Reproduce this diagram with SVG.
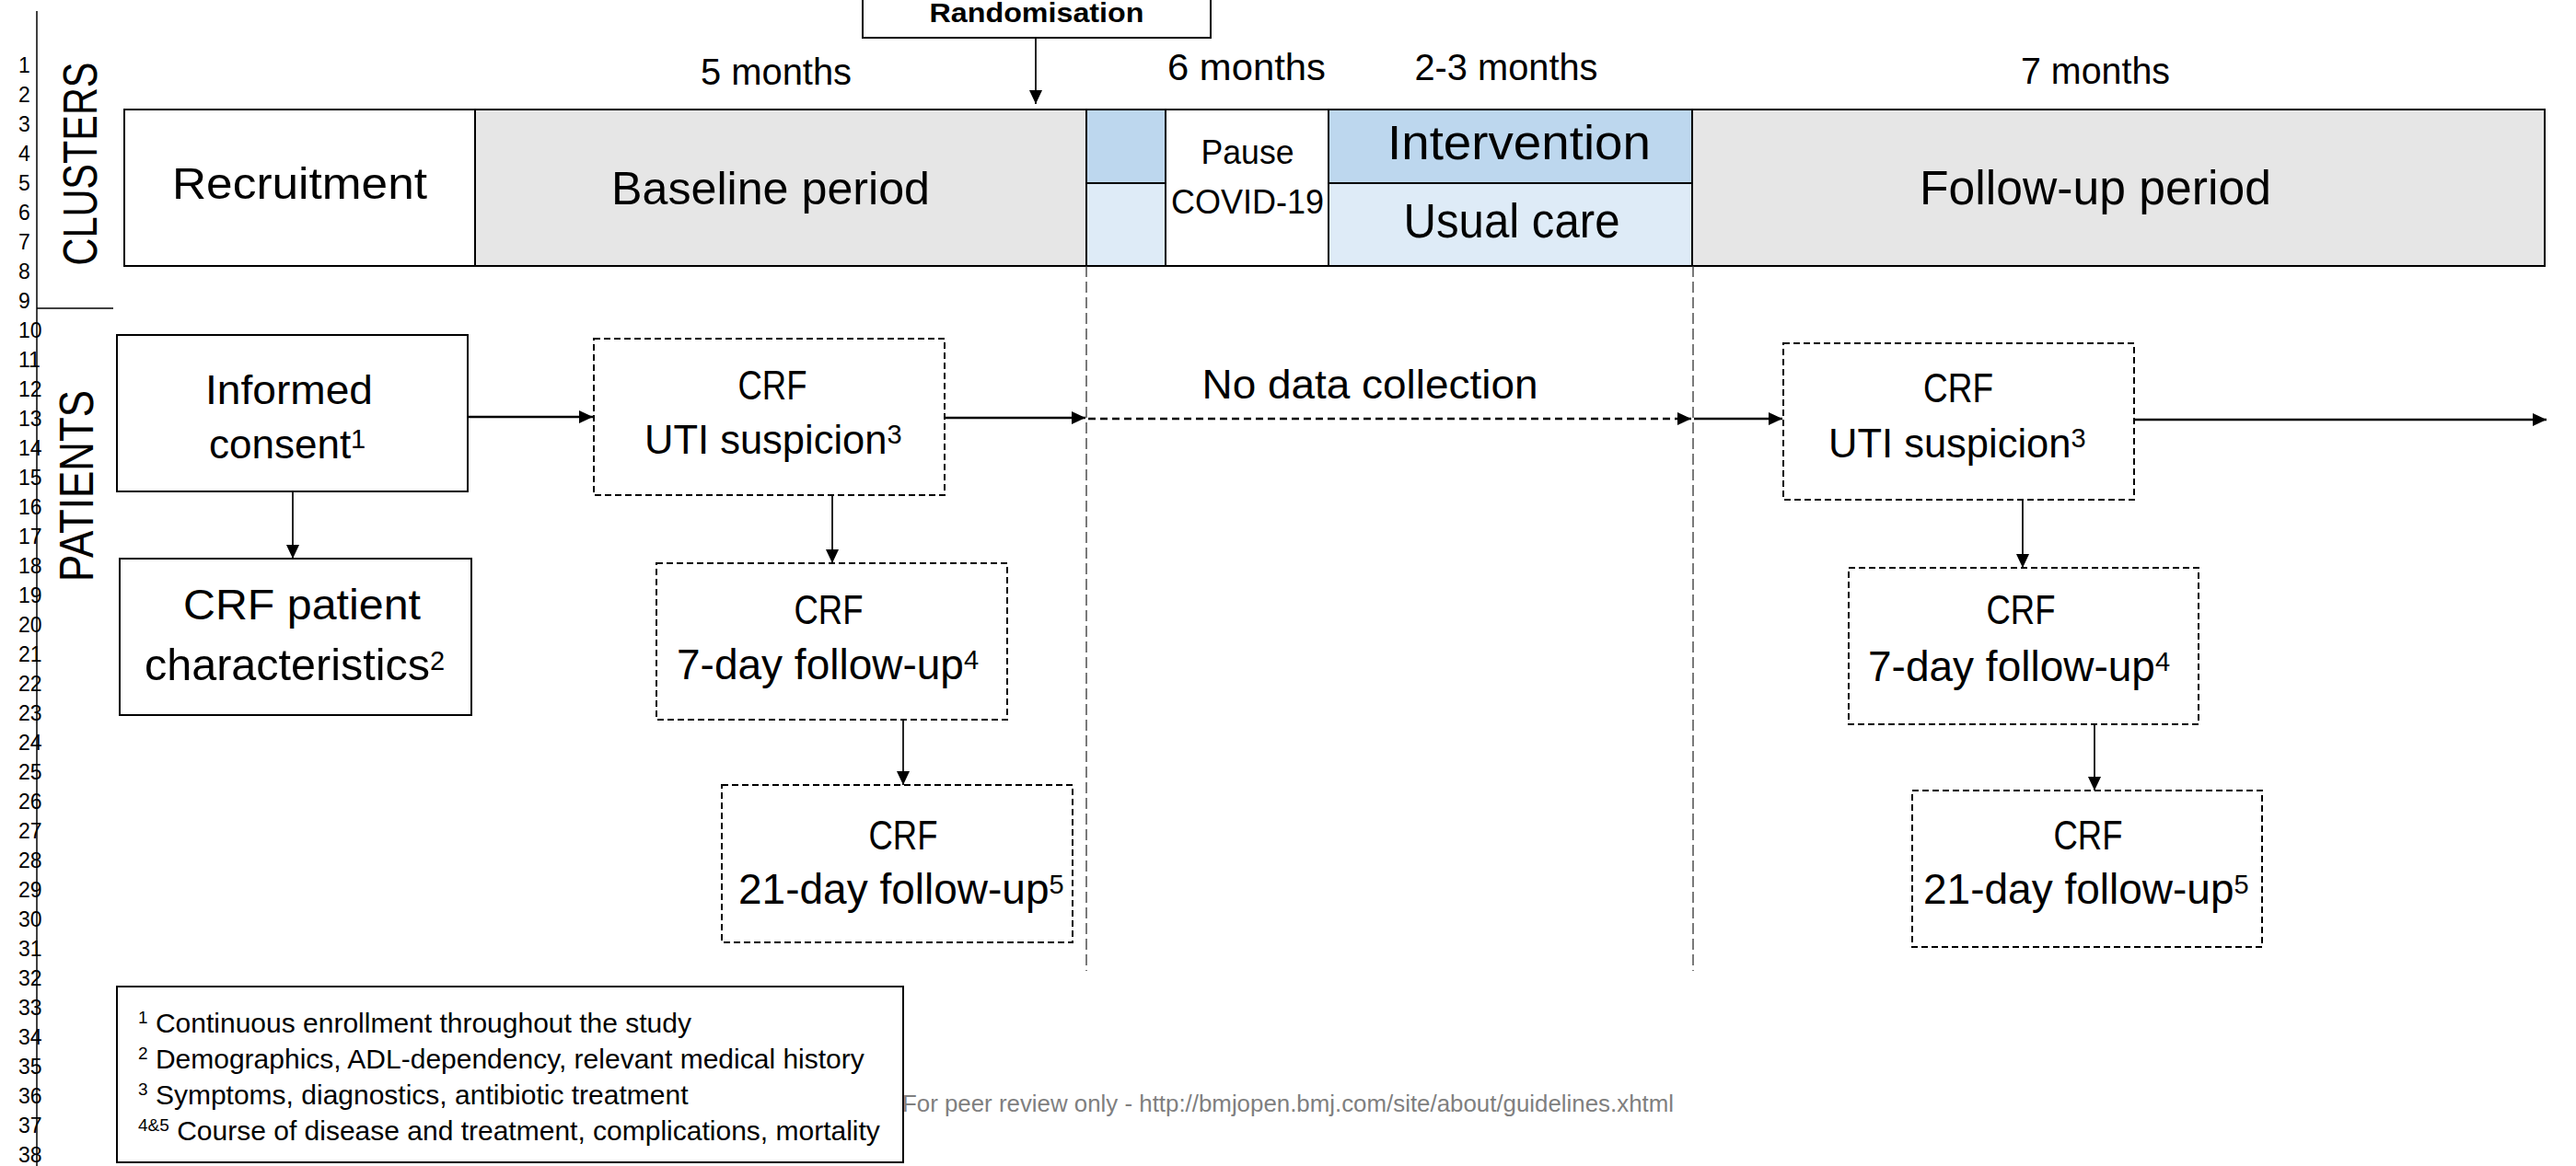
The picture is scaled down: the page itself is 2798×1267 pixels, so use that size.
<svg xmlns="http://www.w3.org/2000/svg" width="2798" height="1267" viewBox="0 0 2798 1267">
<defs>
<style>
text { font-family: "Liberation Sans", Arial, sans-serif; fill: #000; }
.ln { font-size: 23px; }
.box { fill: #fff; stroke: #000; stroke-width: 2; }
.dbox { fill: #fff; stroke: #000; stroke-width: 2; stroke-dasharray: 7 4; }
.gray { fill: #e6e6e6; stroke: #000; stroke-width: 2; }
.blue { fill: #bdd7ee; stroke: #000; stroke-width: 2; }
.lblue { fill: #deebf7; stroke: #000; stroke-width: 2; }
.arr { stroke: #000; stroke-width: 2.5; fill: none; marker-end: url(#ah); }
.varr { stroke: #000; stroke-width: 1.7; fill: none; marker-end: url(#ah); }
.dot { stroke-dasharray: 8 5; }
.vdash { stroke: #333; stroke-width: 1.3; stroke-dasharray: 12 5; fill: none; }
.plain { stroke: #000; stroke-width: 1.5; fill: none; }
.mid { font-size: 44px; }
.mon { font-size: 40px; }
.ft { font-size: 30px; }
.sup { font-size: 29px; }
.c { text-anchor: middle; }
</style>
<marker id="ah" markerUnits="userSpaceOnUse" markerWidth="16" markerHeight="14" refX="15" refY="7" orient="auto">
<path d="M0,0 L15,7 L0,14 Z" fill="#000"/>
</marker>
</defs>

<g id="line-numbers" class="ln">
<line class="plain" x1="40" y1="12" x2="40" y2="1267"/>
<text x="20" y="79">1</text><text x="20" y="111">2</text><text x="20" y="143">3</text><text x="20" y="175">4</text>
<text x="20" y="207">5</text><text x="20" y="239">6</text><text x="20" y="271">7</text><text x="20" y="303">8</text>
<text x="20" y="335">9</text><text x="20" y="367">10</text><text x="20" y="399">11</text><text x="20" y="431">12</text>
<text x="20" y="463">13</text><text x="20" y="495">14</text><text x="20" y="527">15</text><text x="20" y="559">16</text>
<text x="20" y="591">17</text><text x="20" y="623">18</text><text x="20" y="655">19</text><text x="20" y="687">20</text>
<text x="20" y="719">21</text><text x="20" y="751">22</text><text x="20" y="783">23</text><text x="20" y="815">24</text>
<text x="20" y="847">25</text><text x="20" y="879">26</text><text x="20" y="911">27</text><text x="20" y="943">28</text>
<text x="20" y="975">29</text><text x="20" y="1007">30</text><text x="20" y="1039">31</text><text x="20" y="1071">32</text>
<text x="20" y="1103">33</text><text x="20" y="1135">34</text><text x="20" y="1167">35</text><text x="20" y="1199">36</text>
<text x="20" y="1231">37</text><text x="20" y="1263">38</text>
</g>

<g id="section-labels">
<text class="c" transform="translate(105,178) rotate(-90)" font-size="52" textLength="221" lengthAdjust="spacingAndGlyphs">CLUSTERS</text>
<text class="c" transform="translate(101,528) rotate(-90)" font-size="52" textLength="208" lengthAdjust="spacingAndGlyphs">PATIENTS</text>
<line class="plain" x1="40" y1="335" x2="123" y2="335"/>
</g>

<g id="randomisation">
<rect class="box" x="937" y="-30" width="378" height="71"/>
<text class="c" x="1126" y="24" font-size="29" font-weight="bold" textLength="233" lengthAdjust="spacingAndGlyphs">Randomisation</text>
</g>

<g id="durations" class="mon">
<text class="c" x="843" y="92" textLength="164" lengthAdjust="spacingAndGlyphs">5 months</text>
<text class="c" x="1354" y="87" textLength="172" lengthAdjust="spacingAndGlyphs">6 months</text>
<text class="c" x="1636" y="87" textLength="199" lengthAdjust="spacingAndGlyphs">2-3 months</text>
<text class="c" x="2276" y="91" textLength="162" lengthAdjust="spacingAndGlyphs">7 months</text>
</g>

<g id="recruitment">
<rect class="box" x="135" y="119" width="381" height="170"/>
<text class="c" x="325.5" y="216" font-size="48" textLength="277" lengthAdjust="spacingAndGlyphs">Recruitment</text>
</g>
<g id="baseline-period">
<rect class="gray" x="516" y="119" width="664" height="170"/>
<text class="c" x="837" y="222" font-size="50" textLength="346" lengthAdjust="spacingAndGlyphs">Baseline period</text>
</g>
<g id="transition">
<rect class="blue" x="1180" y="119" width="86" height="80"/>
<rect class="lblue" x="1180" y="199" width="86" height="90"/>
</g>
<g id="pause-covid">
<rect class="box" x="1266" y="119" width="177" height="170"/>
<text class="c" x="1355" y="178" font-size="36" textLength="101" lengthAdjust="spacingAndGlyphs">Pause</text>
<text class="c" x="1355" y="232" font-size="36" textLength="166" lengthAdjust="spacingAndGlyphs">COVID-19</text>
</g>
<g id="intervention">
<rect class="blue" x="1443" y="119" width="395" height="80"/>
<text class="c" x="1650" y="173" font-size="51" textLength="286" lengthAdjust="spacingAndGlyphs">Intervention</text>
</g>
<g id="usual-care">
<rect class="lblue" x="1443" y="199" width="395" height="90"/>
<text class="c" x="1642" y="258" font-size="51" textLength="235" lengthAdjust="spacingAndGlyphs">Usual care</text>
</g>
<g id="follow-up-period">
<rect class="gray" x="1838" y="119" width="926" height="170"/>
<text class="c" x="2276" y="222" font-size="51" textLength="382" lengthAdjust="spacingAndGlyphs">Follow-up period</text>
</g>

<g id="informed-consent">
<rect class="box" x="127" y="364" width="381" height="170"/>
<text class="c mid" x="314" y="439" textLength="182" lengthAdjust="spacingAndGlyphs">Informed</text>
<text x="227" y="498" font-size="44">consent<tspan class="sup" dy="-11">1</tspan></text>
</g>
<g id="crf-patient-characteristics">
<rect class="box" x="130" y="607" width="382" height="170"/>
<text class="c" x="328" y="673" font-size="47" textLength="258" lengthAdjust="spacingAndGlyphs">CRF patient</text>
<text x="157" y="739" font-size="48.5">characteristics<tspan class="sup" dy="-11">2</tspan></text>
</g>

<g id="crf-uti-baseline">
<rect class="dbox" x="645" y="368" width="381" height="170"/>
<text class="c mid" x="839" y="434" textLength="75" lengthAdjust="spacingAndGlyphs">CRF</text>
<text x="700" y="493" font-size="43.5">UTI suspicion<tspan class="sup" dy="-11">3</tspan></text>
</g>
<g id="crf-7day-baseline">
<rect class="dbox" x="713" y="612" width="381" height="170"/>
<text class="c mid" x="900" y="678" textLength="75" lengthAdjust="spacingAndGlyphs">CRF</text>
<text x="735" y="738" font-size="46">7-day follow-up<tspan class="sup" dy="-11">4</tspan></text>
</g>
<g id="crf-21day-baseline">
<rect class="dbox" x="784" y="853" width="381" height="171"/>
<text class="c mid" x="981" y="923" textLength="75" lengthAdjust="spacingAndGlyphs">CRF</text>
<text x="802" y="982" font-size="46">21-day follow-up<tspan class="sup" dy="-11">5</tspan></text>
</g>

<g id="crf-uti-followup">
<rect class="dbox" x="1937" y="373" width="381" height="170"/>
<text class="c mid" x="2127" y="437" textLength="76" lengthAdjust="spacingAndGlyphs">CRF</text>
<text x="1986" y="497" font-size="43.5">UTI suspicion<tspan class="sup" dy="-11">3</tspan></text>
</g>
<g id="crf-7day-followup">
<rect class="dbox" x="2008" y="617" width="380" height="170"/>
<text class="c mid" x="2195" y="678" textLength="75" lengthAdjust="spacingAndGlyphs">CRF</text>
<text x="2029" y="740" font-size="46">7-day follow-up<tspan class="sup" dy="-11">4</tspan></text>
</g>
<g id="crf-21day-followup">
<rect class="dbox" x="2077" y="859" width="380" height="170"/>
<text class="c mid" x="2268" y="923" textLength="75" lengthAdjust="spacingAndGlyphs">CRF</text>
<text x="2089" y="982" font-size="46">21-day follow-up<tspan class="sup" dy="-11">5</tspan></text>
</g>

<g id="no-data-collection">
<text class="c mid" x="1488" y="433" textLength="365" lengthAdjust="spacingAndGlyphs">No data collection</text>
</g>

<g id="connectors">
<line class="vdash" x1="1180" y1="289" x2="1180" y2="1055"/>
<line class="vdash" x1="1839" y1="289" x2="1839" y2="1055"/>
<line class="varr" x1="1125" y1="41" x2="1125" y2="113"/>
<line class="varr" x1="318" y1="534" x2="318" y2="607"/>
<line class="varr" x1="904" y1="539" x2="904" y2="612"/>
<line class="varr" x1="981" y1="782" x2="981" y2="853"/>
<line class="varr" x1="2197" y1="544" x2="2197" y2="617"/>
<line class="varr" x1="2275" y1="787" x2="2275" y2="859"/>
<line class="arr" x1="508" y1="453" x2="644" y2="453"/>
<line class="arr" x1="1027" y1="454" x2="1179" y2="454"/>
<line class="arr dot" x1="1182" y1="455" x2="1837" y2="455"/>
<line class="arr" x1="1840" y1="455" x2="1936" y2="455"/>
<line class="arr" x1="2319" y1="456" x2="2766" y2="456"/>
</g>

<g id="footnotes">
<rect class="box" x="127" y="1072" width="854" height="191"/>
<text class="ft" x="150" y="1122"><tspan font-size="19" dy="-10">1</tspan><tspan dy="10"> Continuous enrollment throughout the study</tspan></text>
<text class="ft" x="150" y="1161"><tspan font-size="19" dy="-10">2</tspan><tspan dy="10"> Demographics, ADL-dependency, relevant medical history</tspan></text>
<text class="ft" x="150" y="1200"><tspan font-size="19" dy="-10">3</tspan><tspan dy="10"> Symptoms, diagnostics, antibiotic treatment</tspan></text>
<text class="ft" x="150" y="1239"><tspan font-size="19" dy="-10">4&amp;5</tspan><tspan dy="10"> Course of disease and treatment, complications, mortality</tspan></text>
</g>

<g id="watermark">
<text x="980" y="1208" font-size="26" style="fill:#7f7f7f" textLength="838" lengthAdjust="spacingAndGlyphs">For peer review only - http://bmjopen.bmj.com/site/about/guidelines.xhtml</text>
</g>
</svg>
